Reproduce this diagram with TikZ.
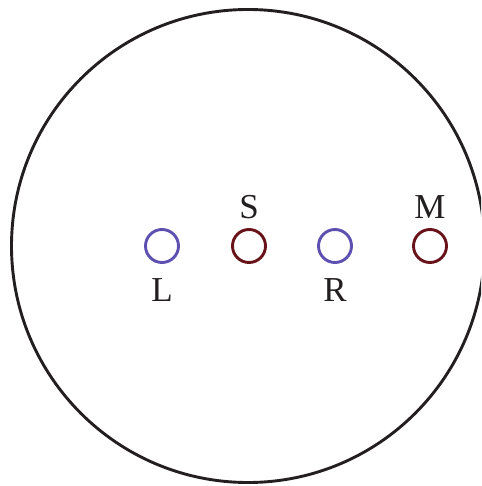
\documentclass[tikz,border=0pt]{standalone}
\usepackage{fontspec}
\setmainfont{Liberation Serif}
\usepackage{tikz}
\usetikzlibrary{positioning}
\definecolor{probeblue}{RGB}{92,80,176}
\definecolor{probered}{RGB}{104,18,26}
\definecolor{inkblack}{RGB}{35,31,32}

\begin{document}
\begin{tikzpicture}[
  x=1pt, y=-1pt,
  dish/.style={circle, draw=inkblack, line width=2.9pt, minimum size=473pt, inner sep=0pt},
  blueprobe/.style={circle, draw=probeblue, line width=2.9pt, minimum size=33pt, inner sep=0pt},
  redprobe/.style={circle, draw=probered, line width=2.9pt, minimum size=33pt, inner sep=0pt},
  tag/.style={text=inkblack, font=\fontsize{35}{40}\selectfont, inner sep=0pt}
]
\clip (0,0) rectangle (481,486);
\useasboundingbox (0,0) rectangle (481,486);
\node[dish] (plate) at (248,246) {};
\node[blueprobe] (L) at (162,246) {};
\node[redprobe] (S) at (249,246) {};
\node[blueprobe] (R) at (335,246) {};
\node[redprobe] (M) at (430,246) {};

\node[tag, above=9pt of S] (Slab) {S};
\node[tag, above=9pt of M] (Mlab) {M};
\node[tag, below=14pt of L] (Llab) {L};
\node[tag, below=14pt of R] (Rlab) {R};
\end{tikzpicture}
\end{document}
